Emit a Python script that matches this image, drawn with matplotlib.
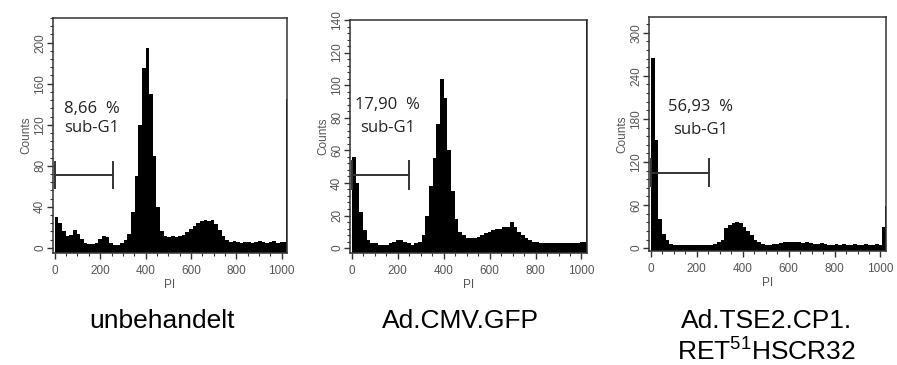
import numpy as np
import matplotlib
matplotlib.use("Agg")
import matplotlib.pyplot as plt
from matplotlib.ticker import MultipleLocator

plt.rcParams['font.family'] = ['Liberation Sans', 'DejaVu Sans']
plt.rcParams['mathtext.default'] = 'regular'

# PI channel edges: 16-channel bins up to 1008, then the overflow channels
edges = np.append(np.arange(0, 1024, 16), [1020, 1024])

# counts per bin
counts_unbehandelt = [30, 24, 16, 12, 13, 17, 14, 9, 5, 4,
                      4, 5, 9, 12, 11, 5, 3, 3, 5, 8,
                      14, 35, 70, 120, 175, 195, 150, 90, 40, 16,
                      12, 11, 12, 11, 12, 13, 15, 18, 21, 24,
                      26, 27, 26, 27, 23, 17, 12, 8, 6, 7,
                      6, 5, 6, 6, 5, 6, 7, 6, 5, 6,
                      7, 5, 6, 6, 145]
counts_cmv_gfp = [56, 40, 22, 11, 5, 3, 3, 2, 2, 2,
                  3, 4, 5, 5, 4, 3, 2, 3, 4, 8,
                  20, 38, 55, 76, 104, 92, 60, 35, 18, 10,
                  8, 6, 6, 6, 7, 8, 9, 10, 11, 12,
                  12, 13, 13, 16, 13, 10, 8, 6, 5, 4,
                  4, 3, 3, 3, 3, 3, 3, 3, 3, 3,
                  3, 3, 4, 4, 150]
counts_tse2 = [265, 150, 40, 20, 12, 6, 5, 5, 4, 5,
               4, 4, 5, 4, 5, 4, 5, 6, 8, 12,
               28, 32, 35, 36, 35, 30, 24, 18, 12, 8,
               6, 5, 5, 6, 6, 7, 8, 9, 8, 9,
               8, 7, 8, 7, 6, 6, 7, 6, 5, 5,
               6, 5, 6, 5, 5, 6, 5, 5, 6, 5,
               5, 6, 5, 30, 58]

sub_g1 = ['8,66  %', '17,90  %', '56,93  %']
gate_level = [71, 45, 105]
gate_half = [13, 8.5, 19]
gate_end = [255, 248, 254]
captions = ['unbehandelt', 'Ad.CMV.GFP', 'Ad.TSE2.CP1.']
captions_2 = ['', '', 'RET$^{51}$HSCR32']

# layout (pixels of the 897x365 picture)
W, H = 897, 365
boxes = [(53, 287, 18, 253), (350, 587, 20, 253), (649, 886, 17, 251)]
ylims = [(-5, 224), (-3, 140), (-4, 322)]
ymajor = [40, 20, 60]
yminor = [8, 4, 12]
text_pos = [(163, 135, 117), (157, 88, 74), (215, 197, 165)]
cap_x = [162, 460, 767]

fig = plt.figure(figsize=(8.97, 3.65), dpi=100)
data = [counts_unbehandelt, counts_cmv_gfp, counts_tse2]

for k in range(3):
    l, r, t, b = boxes[k]
    ax = fig.add_axes([l / W, (H - b) / H, (r - l) / W, (b - t) / H])
    lo, hi = ylims[k]
    ax.stairs(data[k], edges, fill=True, color='black', baseline=lo)
    ax.set_xlim(-8, 1024)
    ax.set_ylim(lo, hi)

    ax.xaxis.set_major_locator(MultipleLocator(200))
    ax.xaxis.set_minor_locator(MultipleLocator(50))
    ax.yaxis.set_major_locator(MultipleLocator(ymajor[k]))
    ax.yaxis.set_minor_locator(MultipleLocator(yminor[k]))
    ax.tick_params(which='major', length=4, width=1, color='#333',
                   labelsize=8.5, labelcolor='#555')
    ax.tick_params(axis='x', pad=5)
    ax.tick_params(axis='y', pad=1)
    ax.tick_params(which='minor', length=2.5, width=0.8, color='#333')
    ax.tick_params(axis='y', labelrotation=90)
    for lbl in ax.get_yticklabels():
        lbl.set_va('center')
    for s in ax.spines.values():
        s.set_color('#333')
        s.set_linewidth(1.1)

    ax.set_ylabel('Counts', fontsize=8.5, color='#555', labelpad=1)
    ax.set_xlabel('PI', fontsize=8.5, color='#555', labelpad=1)

    # sub-G1 gate
    y0 = gate_level[k]
    ax.plot([0, gate_end[k]], [y0, y0], color='#333', lw=1.4)
    ax.plot([0, 0], [y0 - gate_half[k], y0 + gate_half[k]], color='#333', lw=1.4)
    ax.plot([gate_end[k], gate_end[k]], [y0 - gate_half[k], y0 + gate_half[k]],
            color='#333', lw=1.4)

    tx, ty1, ty2 = text_pos[k]
    ax.text(tx, ty1, sub_g1[k], ha='center', va='center', fontsize=12,
            color='#222', family=['Open Sans', 'DejaVu Sans'])
    ax.text(tx, ty2, 'sub-G1', ha='center', va='center', fontsize=12,
            color='#222', family=['Open Sans', 'DejaVu Sans'])

    fig.text(cap_x[k] / W, (H - 328) / H, captions[k], ha='center',
             va='baseline', fontsize=19, color='black')
    if captions_2[k]:
        fig.text(cap_x[k] / W, (H - 361) / H, captions_2[k], ha='center',
                 va='baseline', fontsize=19, color='black')

fig.savefig('out.png', dpi=100)
